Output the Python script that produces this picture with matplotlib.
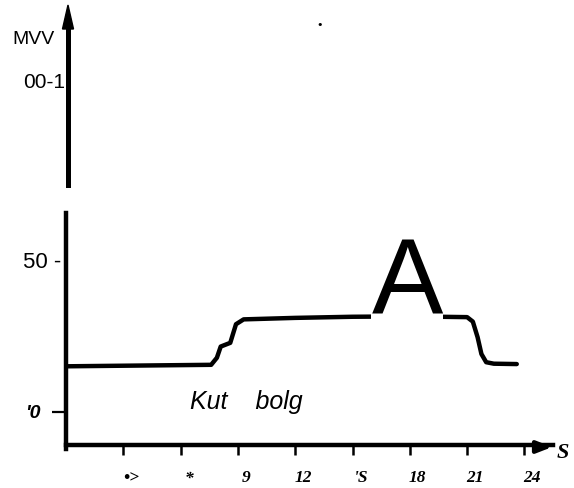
import numpy as np
import matplotlib
matplotlib.use("Agg")
import matplotlib.pyplot as plt
from matplotlib.transforms import ScaledTranslation

# curve (hours vs value)
hours = [0, 7.6, 7.9, 8.1, 8.6, 8.9, 9.3, 12, 15, 18, 21.0, 21.3, 21.55, 21.75, 22.0, 22.4, 23.6]
values = [22.2, 22.6, 24.5, 27.5, 28.5, 33.5, 34.8, 35.2, 35.5, 35.6, 35.4, 34.2, 30.0, 25.5, 23.3, 22.9, 22.8]

xticks = [3, 6, 9, 12, 15, 18, 21, 24]
xlabels = ["\u2022>", "*", "9", "12", "'S", "18", "21", "24"]

fig = plt.figure(figsize=(5.74, 4.88), dpi=100)
W, H = 574, 488

# lower panel
x0, x1 = 66, 553
y0, y1 = 449, 213
ax = fig.add_axes([x0 / W, 1 - y0 / H, (x1 - x0) / W, (y0 - y1) / H])
ax.set_xlim(0, (x1 - x0) / 19.1)
ax.set_ylim(0, (y0 - y1) / 3.725)
ax.plot(hours, values, color="black", lw=3.2, solid_capstyle="round", solid_joinstyle="round")

for s in ["top", "right"]:
    ax.spines[s].set_visible(False)
ax.spines["left"].set_linewidth(3.2)
ax.spines["bottom"].set_linewidth(3.2)
ax.spines["bottom"].set_position(("data", 1))
ax.set_xticks(xticks)
ax.set_xticklabels(xlabels, fontfamily="Liberation Serif", fontstyle="italic",
                   fontweight="bold", fontsize=12.5)
ax.tick_params(axis="x", length=7, width=1.8, pad=11)
shift = ScaledTranslation(8 / 100, 0, fig.dpi_scale_trans)
for lab in ax.get_xticklabels():
    lab.set_transform(lab.get_transform() + shift)

# y labels: tick mark only at 10, "50 -" carries its own dash
ax.set_yticks([10])
ax.set_yticklabels(["'0"], fontfamily="Liberation Sans", fontsize=14,
                   fontstyle="italic", fontweight="bold")
ax.tick_params(axis="y", which="major", length=10, width=1.6, pad=8)
ax.text(-0.01, 50, "50 -", transform=ax.get_yaxis_transform(),
        fontfamily="Liberation Sans", fontsize=16, ha="right", va="center")

# arrow on x axis
ax.annotate("", xy=(x1 - x0 + 2, 2), xytext=(x1 - x0 - 20, 2),
            xycoords="axes pixels", textcoords="axes pixels",
            arrowprops=dict(arrowstyle="-|>,head_length=0.9,head_width=0.35",
                            color="black", lw=3))
fig.text(563 / W, 1 - 453 / H, "S", fontfamily="Liberation Serif",
         fontstyle="italic", fontweight="bold", fontsize=16, ha="center", va="center")

fig.text(407 / W, 1 - 287 / H, "A", fontfamily="Liberation Sans", fontsize=77,
         ha="center", va="center",
         bbox=dict(facecolor="white", edgecolor="none", pad=0))
fig.text(246 / W, 1 - 402 / H, "Kut    bolg", fontfamily="Liberation Sans",
         fontstyle="italic", fontsize=18, ha="center", va="center")

# upper panel: just the axis with arrow
fig.add_artist(plt.Line2D([68 / W, 68 / W], [1 - 185 / H, 1 - 25 / H],
                          color="black", lw=3.6, transform=fig.transFigure))
fig.add_artist(matplotlib.patches.FancyArrow(68 / W, 1 - 30 / H, 0, 25 / H,
                                             width=0, head_width=11 / W,
                                             head_length=24 / H, color="black",
                                             length_includes_head=True,
                                             transform=fig.transFigure))
fig.text(33 / W, 1 - 39 / H, "MVV", fontfamily="Liberation Sans", fontsize=14,
         ha="center", va="center")
fig.text(65 / W, 1 - 83 / H, "00-1", fontfamily="Liberation Sans", fontsize=15,
         ha="right", va="center")

# stray speck from the scan
fig.text(320 / W, 1 - 25 / H, "\u2022", fontsize=8, ha="center", va="center")

fig.savefig("out.png", dpi=100)
